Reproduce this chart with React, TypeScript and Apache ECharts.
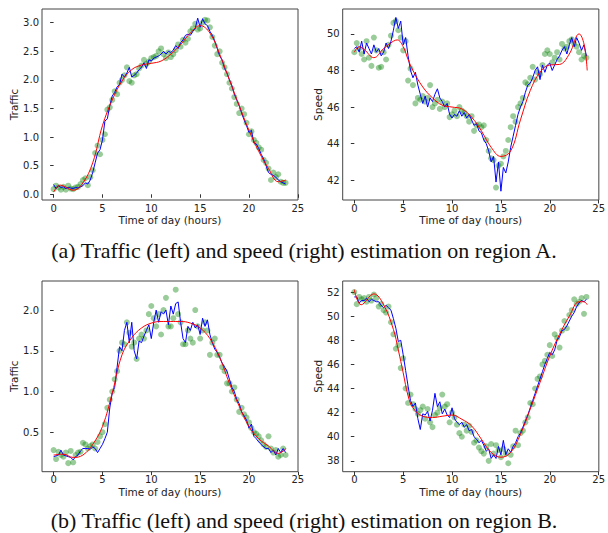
import React, { useEffect, useRef } from "react";
import * as echarts from "echarts";

// ---- time grid for the measured / estimated series (every 15 minutes) ----
const TIME = Array.from({ length: 96 }, (_, i) => i / 4);
const X_TICKS = [0, 5, 10, 15, 20, 25];

// ---- Region A, traffic ----
const A_TRAFFIC_OBS = [
  0.09, 0.15, 0.12, 0.08, 0.13, 0.08, 0.15, 0.1, 0.09, 0.12, 0.13, 0.18,
  0.25, 0.28, 0.16, 0.3, 0.42, 0.72, 0.85, 0.7, 0.95, 1.05, 1.48, 1.52,
  1.65, 1.8, 1.75, 1.95, 2.0, 2.08, 2.22, 1.98, 1.95, 2.08, 2.1, 2.2,
  2.25, 2.35, 2.28, 2.32, 2.38, 2.4, 2.42, 2.5, 2.55, 2.45, 2.38, 2.48,
  2.4, 2.45, 2.52, 2.62, 2.58, 2.7, 2.65, 2.72, 2.85, 2.9, 2.98, 2.88,
  2.9, 3.0, 3.05, 3.04, 2.92, 2.75, 2.6, 2.45, 2.5, 2.3, 2.22, 2.1,
  1.95, 1.85, 1.7, 1.58, 1.42, 1.5, 1.4, 1.25, 1.05, 1.1, 0.95, 0.9,
  0.82, 0.78, 0.6, 0.55, 0.45, 0.25, 0.38, 0.3, 0.35, 0.22, 0.2, 0.2,
];
const A_TRAFFIC_EST = [
  0.17, 0.1, 0.15, 0.12, 0.13, 0.1, 0.12, 0.11, 0.1, 0.12, 0.11, 0.13,
  0.15, 0.2, 0.18, 0.25, 0.38, 0.55, 0.72, 0.78, 0.95, 1.28, 1.32, 1.55,
  1.72, 1.78, 1.88, 1.92, 2.1, 2.05, 2.12, 2.22, 2.05, 2.08, 2.12, 2.18,
  2.22, 2.3, 2.2, 2.35, 2.33, 2.38, 2.4, 2.42, 2.45, 2.5, 2.45, 2.5,
  2.48, 2.52, 2.6, 2.55, 2.65, 2.7, 2.78, 2.8, 2.78, 2.85, 2.9, 3.08,
  2.92, 3.07, 2.98, 2.95, 2.85, 2.78, 2.68, 2.55, 2.42, 2.35, 2.2, 2.12,
  2.0, 1.9, 1.75, 1.65, 1.55, 1.42, 1.3, 1.2, 1.08, 1.12, 0.9, 0.88,
  0.8, 0.7, 0.62, 0.5, 0.38, 0.35, 0.33, 0.3, 0.25, 0.22, 0.2, 0.18,
];
const A_TRAFFIC_FIT_T = [0, 0.7, 2, 3, 4, 5, 6, 7, 8, 9, 10, 11, 12, 13, 14, 15, 16, 17, 18, 19, 20, 21, 22, 23, 23.8];
const A_TRAFFIC_FIT = [0.04, 0.16, 0.07, 0.2, 0.55, 1.2, 1.65, 1.98, 2.18, 2.26, 2.29, 2.33, 2.45, 2.62, 2.82, 2.95, 2.82, 2.45, 2.0, 1.55, 1.12, 0.75, 0.45, 0.22, 0.25];

// ---- Region A, speed ----
const A_SPEED_OBS = [
  49.0, 49.5, 49.2, 48.9, 48.6, 49.6, 48.7, 48.25, 49.8, 49.1, 48.15, 48.2,
  49.0, 48.6, 49.4, 49.9, 50.6, 50.7, 50.2, 49.8, 49.1, 49.6, 47.45, 48.1,
  47.2, 46.2, 46.5, 46.4, 46.6, 46.3, 46.5, 47.2, 46.0, 46.2, 46.4, 45.9,
  46.3, 46.0, 46.2, 45.45, 45.6, 45.8, 45.5, 46.0, 45.8, 45.7, 45.5, 45.2,
  45.5, 44.7, 45.0, 45.05, 44.9, 45.0, 44.2, 43.6, 43.2, 43.1, 41.6, 42.8,
  42.9, 43.3, 43.6, 44.2, 44.9, 45.5, 45.2, 46.0, 46.2, 46.5, 47.35, 47.25,
  47.6, 48.2, 47.5, 47.9, 47.8, 48.3, 48.9, 49.1, 48.9, 48.45, 48.7, 49.0,
  48.6, 49.45, 49.2, 49.3, 49.6, 49.7, 49.45, 49.3, 49.0, 48.6, 48.8, 48.7,
];
const A_SPEED_EST = [
  49.2, 49.3, 49.0, 49.6, 48.9, 49.5, 49.2, 48.9, 49.4, 49.0, 49.2, 48.8,
  49.0, 49.5, 49.2, 49.6, 50.2, 50.9, 50.3, 50.7, 49.4, 49.8, 48.8, 48.0,
  47.6, 47.9, 47.2, 46.7, 46.2, 46.6, 46.0, 46.5, 46.3, 46.7, 47.0, 46.5,
  46.3, 46.0, 46.2, 45.6, 45.4, 45.6, 45.5, 45.8, 45.5, 45.7, 45.4, 45.6,
  45.3, 45.0, 45.1, 44.7, 44.6, 44.2, 44.0, 43.6, 43.0, 43.3, 41.9, 43.0,
  41.4, 42.7, 42.4, 43.0, 43.8, 44.4, 45.0, 45.6, 46.0, 46.3, 46.8, 47.2,
  47.3, 47.6, 48.0, 48.2, 47.5, 48.3, 47.9, 48.3, 48.4, 48.0, 48.3, 48.6,
  48.8, 49.1, 49.3, 48.9, 49.4, 49.8, 49.3, 49.8, 49.5, 49.1, 49.4, 48.8,
];
const A_SPEED_FIT_T = [0, 0.5, 1, 2, 3, 4, 4.4, 5, 5.5, 6, 7, 8, 9, 10, 11, 12, 13, 14, 15, 16, 17, 18, 19, 20, 21, 22, 23, 23.5, 23.83];
const A_SPEED_FIT = [49.0, 49.3, 49.15, 48.7, 49.2, 49.6, 49.67, 49.3, 48.6, 48.0, 47.1, 46.5, 46.1, 46.0, 45.9, 45.45, 44.7, 43.8, 43.3, 43.6, 45.3, 46.9, 47.9, 48.3, 48.33, 48.9, 50.0, 49.45, 48.0];

// ---- Region B, traffic ----
const B_TRAFFIC_OBS = [
  0.28, 0.17, 0.26, 0.22, 0.2, 0.25, 0.12, 0.27, 0.13, 0.22, 0.25, 0.26,
  0.37, 0.35, 0.3, 0.33, 0.35, 0.3, 0.38, 0.45, 0.5, 0.6, 0.8, 0.9,
  1.0, 1.15, 1.25, 1.5, 1.6, 1.58, 1.85, 1.72, 1.55, 1.6, 1.4, 1.65,
  1.7, 1.65, 1.75, 1.95, 2.05, 1.9, 1.8, 1.95, 1.7, 2.0, 2.15, 1.8,
  1.8, 1.9, 2.25, 1.95, 1.85, 1.58, 1.58, 1.75, 1.65, 1.6, 2.0, 1.8,
  1.65, 1.75, 1.85, 1.75, 1.45, 1.6, 1.65, 1.45, 1.45, 1.3, 1.25, 1.1,
  1.1, 1.0, 1.05, 0.9, 0.75, 0.8, 0.72, 0.68, 0.62, 0.55, 0.5, 0.48,
  0.45, 0.4, 0.35, 0.32, 0.45, 0.3, 0.25, 0.28, 0.2, 0.22, 0.3, 0.22,
];
const B_TRAFFIC_EST = [
  0.2, 0.21, 0.22, 0.28, 0.22, 0.21, 0.2, 0.19, 0.16, 0.2, 0.22, 0.27,
  0.3, 0.3, 0.3, 0.29, 0.32, 0.3, 0.25, 0.3, 0.35, 0.42, 0.5, 0.8,
  0.98, 1.05, 1.3, 1.55, 1.5, 1.75, 1.85, 1.6, 1.85, 1.5, 1.4, 1.62,
  1.6, 1.68, 1.75, 1.82, 1.65, 1.85, 2.0, 1.85, 1.98, 1.95, 2.0, 1.82,
  2.05, 1.95, 2.08, 2.1, 1.85, 1.65, 1.6, 1.8, 1.75, 1.85, 1.78, 1.82,
  1.7, 1.9, 1.8, 1.88, 1.7, 1.6, 1.52, 1.48, 1.42, 1.35, 1.3, 1.25,
  1.15, 1.05, 1.0, 0.9, 0.85, 0.75, 0.7, 0.65, 0.55, 0.6, 0.45, 0.42,
  0.38, 0.35, 0.32, 0.3, 0.3, 0.25, 0.28, 0.22, 0.3, 0.25, 0.3, 0.25,
];
const B_TRAFFIC_FIT_T = [0, 1, 2, 3, 4, 5, 6, 7, 8, 9, 10, 11, 12, 13, 14, 15, 16, 17, 18, 19, 20, 21, 22, 23, 23.8];
const B_TRAFFIC_FIT = [0.22, 0.23, 0.19, 0.22, 0.35, 0.57, 0.98, 1.45, 1.66, 1.78, 1.84, 1.86, 1.86, 1.86, 1.84, 1.78, 1.65, 1.42, 1.1, 0.82, 0.57, 0.42, 0.33, 0.24, 0.3];

// ---- Region B, speed ----
const B_SPEED_OBS = [
  52.0, 51.0, 51.6, 51.4, 51.5, 51.2, 51.6, 51.3, 51.8, 51.5, 50.8, 51.0,
  50.5, 50.3, 50.8, 49.5, 48.5, 47.3, 47.6, 45.7, 46.5, 44.0, 42.8, 43.5,
  42.7, 42.3, 41.9, 42.2, 42.5, 41.5, 42.3, 41.2, 40.8, 41.8, 42.0, 42.4,
  43.5, 42.5, 42.7, 41.2, 42.0, 41.6, 41.0, 40.3, 40.0, 41.0, 40.5, 40.9,
  40.4, 39.5, 39.7, 39.1, 38.8, 38.6, 39.2, 38.0, 39.4, 38.6, 39.3, 38.9,
  38.3, 39.0, 38.6, 37.8, 38.5, 39.2, 40.5, 39.3, 40.3, 40.5, 41.2, 41.6,
  42.8, 42.7, 44.0, 44.8, 45.0, 46.0, 46.3, 46.8, 47.6, 46.7, 48.5, 48.2,
  47.4, 48.8, 49.6, 49.0, 50.1, 50.5, 51.4, 51.0, 51.2, 51.5, 50.2, 51.6,
];
const B_SPEED_EST = [
  51.6, 51.6, 51.1, 51.3, 51.3, 51.5, 51.2, 51.4, 51.3, 51.2, 51.2, 50.9,
  50.7, 50.9, 50.7, 50.5, 49.8, 49.0, 47.9, 48.0, 46.8, 45.5, 44.2, 43.0,
  42.5, 42.8, 41.5, 40.6, 41.9, 41.8, 42.1, 41.3, 42.2, 43.6, 42.5, 42.9,
  41.9, 42.3, 41.8, 41.6, 42.4, 41.5, 41.2, 41.0, 41.2, 40.8, 41.0, 40.5,
  40.6, 40.0, 39.8, 39.5, 39.7, 39.3, 38.8, 39.0, 38.2, 38.5, 38.2, 39.2,
  38.5, 39.7, 38.5, 39.0, 38.7, 39.2, 39.5, 40.0, 40.3, 40.8, 41.3, 41.8,
  42.4, 43.0, 43.6, 44.2, 44.8, 45.4, 46.0, 46.5, 47.0, 46.8, 47.2, 48.0,
  48.3, 48.8, 48.9, 49.2, 49.6, 50.0, 50.3, 50.8, 51.1, 51.3, 51.2, 51.4,
];
const B_SPEED_FIT_T = [0, 0.7, 2, 3, 4, 4.5, 5, 5.5, 6, 7, 8, 9, 10, 11, 12, 13, 14, 15, 16, 17, 18, 19, 20, 21, 22, 23, 23.5, 23.83];
const B_SPEED_FIT = [52.2, 50.95, 51.85, 50.95, 48.9, 47.2, 45.3, 43.4, 42.4, 41.7, 41.6, 41.7, 41.8, 41.45, 40.9, 39.8, 38.7, 38.3, 38.7, 40.2, 42.3, 44.5, 46.7, 48.5, 50.0, 51.2, 51.2, 50.95];

const CAPTION_A = "(a) Traffic (left) and speed (right) estimation on region A.";
const CAPTION_B = "(b) Traffic (left) and speed (right) estimation on region B.";

const FONT = "DejaVu Sans";
const TXT = "#222";

const pairs = (t: number[], v: number[]) => v.map((y, i) => [t[i], y]);

interface Panel {
  grid: { left: number; top: number; width: number; height: number };
  yName: string;
  yMin: number;
  yMax: number;
  yTicks: number[];
  yDigits: number;
  yNameGap: number;
  obs: number[];
  est: number[];
  fitT: number[];
  fit: number[];
}

const PANELS: Panel[] = [
  {
    grid: { left: 42, top: 9, width: 256, height: 191 },
    yName: "Traffic", yMin: -0.1, yMax: 3.24, yTicks: [0, 0.5, 1, 1.5, 2, 2.5, 3], yDigits: 1, yNameGap: 23,
    obs: A_TRAFFIC_OBS, est: A_TRAFFIC_EST, fitT: A_TRAFFIC_FIT_T, fit: A_TRAFFIC_FIT,
  },
  {
    grid: { left: 342.7, top: 9, width: 259.5, height: 191 },
    yName: "Speed", yMin: 40.92, yMax: 51.36, yTicks: [42, 44, 46, 48, 50], yDigits: 0, yNameGap: 19.5,
    obs: A_SPEED_OBS, est: A_SPEED_EST, fitT: A_SPEED_FIT_T, fit: A_SPEED_FIT,
  },
  {
    grid: { left: 42, top: 281, width: 256, height: 190.7 },
    yName: "Traffic", yMin: 0.015, yMax: 2.357, yTicks: [0.5, 1, 1.5, 2], yDigits: 1, yNameGap: 23,
    obs: B_TRAFFIC_OBS, est: B_TRAFFIC_EST, fitT: B_TRAFFIC_FIT_T, fit: B_TRAFFIC_FIT,
  },
  {
    grid: { left: 342.7, top: 281, width: 259.5, height: 190.7 },
    yName: "Speed", yMin: 37.1, yMax: 52.92, yTicks: [38, 40, 42, 44, 46, 48, 50, 52], yDigits: 0, yNameGap: 19.5,
    obs: B_SPEED_OBS, est: B_SPEED_EST, fitT: B_SPEED_FIT_T, fit: B_SPEED_FIT,
  },
];

export default function App() {
  const ref = useRef<HTMLDivElement>(null);

  useEffect(() => {
    if (!ref.current) return;
    const chart = echarts.init(ref.current, undefined, { renderer: "svg" });

    const grids = PANELS.map((p) => ({
      ...p.grid,
      show: true,
      borderColor: "#444",
      borderWidth: 1,
      backgroundColor: "transparent",
    }));

    const xAxes = PANELS.map((_, i) => ({
      type: "value",
      gridIndex: i,
      min: -1.19,
      max: 25.02,
      axisLine: { show: false },
      splitLine: { show: false },
      axisTick: { show: true, length: 3.5, customValues: X_TICKS, lineStyle: { color: "#333" } },
      axisLabel: { customValues: X_TICKS, fontSize: 10, color: TXT, margin: 3, fontFamily: FONT },
      name: "Time of day (hours)",
      nameLocation: "middle",
      nameGap: 14.5,
      nameTextStyle: { fontSize: 10.5, color: TXT, fontFamily: FONT },
    }));

    const yAxes = PANELS.map((p, i) => ({
      type: "value",
      gridIndex: i,
      min: p.yMin,
      max: p.yMax,
      axisLine: { show: false },
      splitLine: { show: false },
      axisTick: { show: true, length: 3.5, customValues: p.yTicks, lineStyle: { color: "#333" } },
      axisLabel: {
        customValues: p.yTicks,
        fontSize: 10,
        color: TXT,
        margin: 3,
        fontFamily: FONT,
        formatter: (v: number) => v.toFixed(p.yDigits),
      },
      name: p.yName,
      nameLocation: "middle",
      nameGap: p.yNameGap,
      nameTextStyle: { fontSize: 10.5, color: TXT, fontFamily: FONT },
    }));

    const series: any[] = [];
    PANELS.forEach((p, i) => {
      series.push({
        type: "scatter",
        xAxisIndex: i,
        yAxisIndex: i,
        data: pairs(TIME, p.obs),
        symbolSize: 6,
        itemStyle: { color: "#008000", opacity: 0.4 },
        z: 1,
        silent: true,
      });
      series.push({
        type: "line",
        xAxisIndex: i,
        yAxisIndex: i,
        data: pairs(TIME, p.est),
        showSymbol: false,
        lineStyle: { color: "#0000ff", width: 1 },
        z: 2,
        silent: true,
      });
      series.push({
        type: "line",
        xAxisIndex: i,
        yAxisIndex: i,
        data: pairs(p.fitT, p.fit),
        showSymbol: false,
        smooth: 0.4,
        lineStyle: { color: "#ff0000", width: 1 },
        z: 3,
        silent: true,
      });
    });

    chart.setOption({
      animation: false,
      backgroundColor: "#ffffff",
      grid: grids,
      xAxis: xAxes,
      yAxis: yAxes,
      series,
      graphic: [
        {
          type: "text",
          x: 304,
          y: 250,
          style: {
            text: CAPTION_A,
            fontFamily: "Liberation Serif",
            fontSize: 22,
            fill: "#111",
            textAlign: "center",
            textVerticalAlign: "middle",
          },
        },
        {
          type: "text",
          x: 304,
          y: 520,
          style: {
            text: CAPTION_B,
            fontFamily: "Liberation Serif",
            fontSize: 22,
            fill: "#111",
            textAlign: "center",
            textVerticalAlign: "middle",
          },
        },
      ],
    });

    return () => chart.dispose();
  }, []);

  return (
    <div
      ref={ref}
      style={{ position: "absolute", left: 0, top: 0, width: 608, height: 533, background: "#fff" }}
    />
  );
}
